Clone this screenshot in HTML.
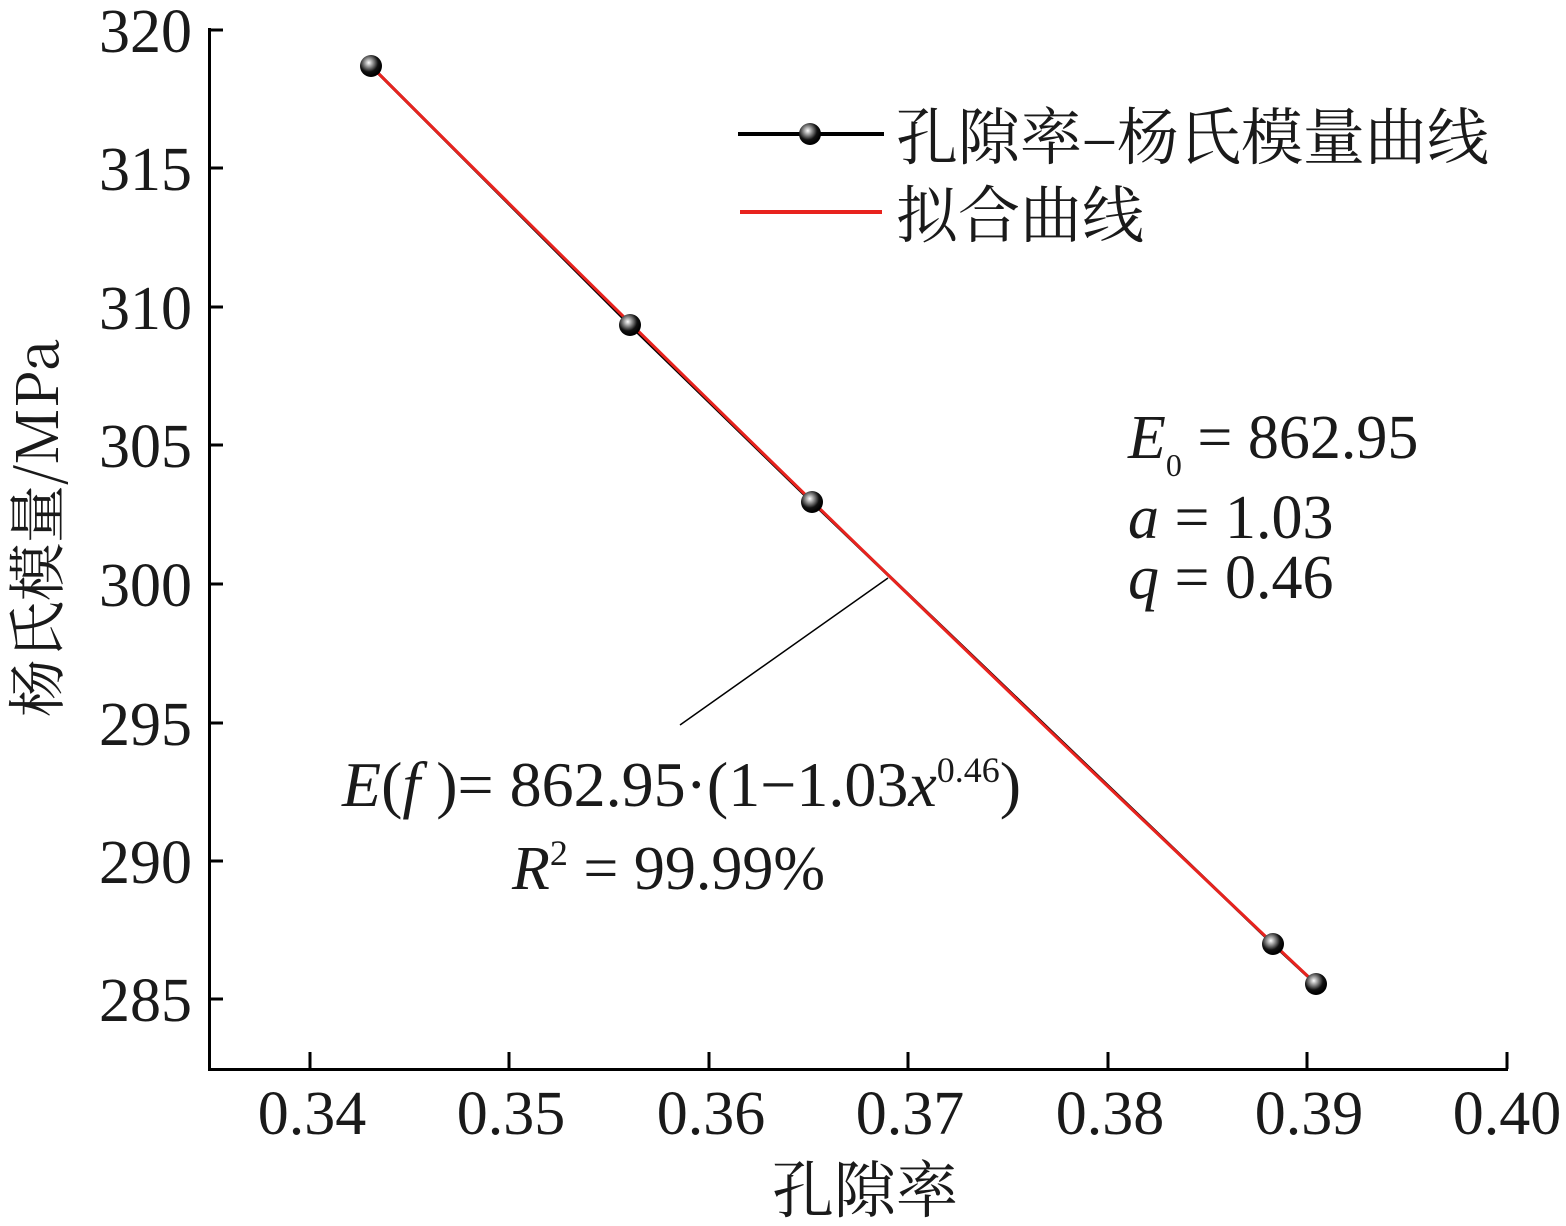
<!DOCTYPE html>
<html><head><meta charset="utf-8"><style>
html,body{margin:0;padding:0;background:#fff;}
svg{display:block;}
text{font-family:"Liberation Serif","Noto Serif CJK SC",serif;fill:#1a1a1a;}
.cjk{font-family:"Noto Serif CJK SC","Liberation Serif",serif;}
</style></head><body>
<svg width="1566" height="1226" viewBox="0 0 1566 1226" xmlns="http://www.w3.org/2000/svg">
<defs>
<radialGradient id="ball" cx="0.4" cy="0.35" r="0.6">
<stop offset="0" stop-color="#fff"/><stop offset="0.3" stop-color="#999"/><stop offset="0.7" stop-color="#111"/><stop offset="1" stop-color="#000"/>
</radialGradient>
</defs>
<g stroke="#000" stroke-width="3" fill="none">
<path d="M209.5 28 V1069.5 H1508"/>
<path d="M209 30 H223 M209 168 H223 M209 307 H223 M209 445 H223 M209 584 H223 M209 723 H223 M209 861 H223 M209 999 H223"/>
<path d="M310 1069 V1052 M509 1069 V1052 M709 1069 V1052 M908 1069 V1052 M1108 1069 V1052 M1307 1069 V1052 M1507 1069 V1052"/>
</g>
<g font-size="62" text-anchor="end">
<text x="192" y="52">320</text><text x="192" y="190">315</text><text x="192" y="329">310</text><text x="192" y="467">305</text><text x="192" y="606">300</text><text x="192" y="745">295</text><text x="192" y="883">290</text><text x="192" y="1021">285</text>
</g>
<g font-size="62" text-anchor="middle">
<text x="312" y="1134">0.34</text><text x="511" y="1134">0.35</text><text x="711" y="1134">0.36</text><text x="910" y="1134">0.37</text><text x="1110" y="1134">0.38</text><text x="1309" y="1134">0.39</text><text x="1507" y="1134">0.40</text>
</g>
<text class="cjk" x="865" y="1212" font-size="62" text-anchor="middle">孔隙率</text>
<text class="cjk" x="0" y="0" font-size="58" text-anchor="middle" transform="translate(58,528) rotate(-90)">杨氏模量/MPa</text>
<polyline points="371,66 630,325 812,502 1273,944 1316,984" fill="none" stroke="#000" stroke-width="3"/>
<path d="M371 66 Q 843 538 1316 984" fill="none" stroke="#e8231e" stroke-width="3"/>
<g>
<circle cx="371" cy="66" r="11" fill="url(#ball)"/>
<circle cx="630" cy="325" r="11" fill="url(#ball)"/>
<circle cx="812" cy="502" r="11" fill="url(#ball)"/>
<circle cx="1273" cy="944" r="11" fill="url(#ball)"/>
<circle cx="1316" cy="984" r="11" fill="url(#ball)"/>
</g>
<line x1="738" y1="134" x2="884" y2="134" stroke="#000" stroke-width="4"/>
<circle cx="810" cy="134" r="11" fill="url(#ball)"/>
<line x1="740" y1="212" x2="882" y2="212" stroke="#e8231e" stroke-width="4"/>
<text class="cjk" x="896" y="159" font-size="62">孔隙率–杨氏模量曲线</text>
<text class="cjk" x="896" y="237" font-size="62">拟合曲线</text>
<g font-size="62">
<text x="1128" y="458"><tspan font-style="italic">E</tspan><tspan font-size="32" dy="18">0</tspan><tspan dy="-18"> = 862.95</tspan></text>
<text x="1128" y="538"><tspan font-style="italic">a</tspan> = 1.03</text>
<text x="1128" y="598"><tspan font-style="italic">q</tspan> = 0.46</text>
<text x="342" y="806" font-size="64"><tspan font-style="italic">E</tspan>(<tspan font-style="italic">f</tspan> )= 862.95·(1−1.03<tspan font-style="italic">x</tspan><tspan font-size="36" dy="-24">0.46</tspan><tspan dy="24">)</tspan></text>
<text x="512" y="889"><tspan font-style="italic">R</tspan><tspan font-size="36" dy="-24">2</tspan><tspan dy="24"> = 99.99%</tspan></text>
</g>
<line x1="680" y1="725" x2="888" y2="578" stroke="#000" stroke-width="1.5"/>
</svg>
</body></html>
